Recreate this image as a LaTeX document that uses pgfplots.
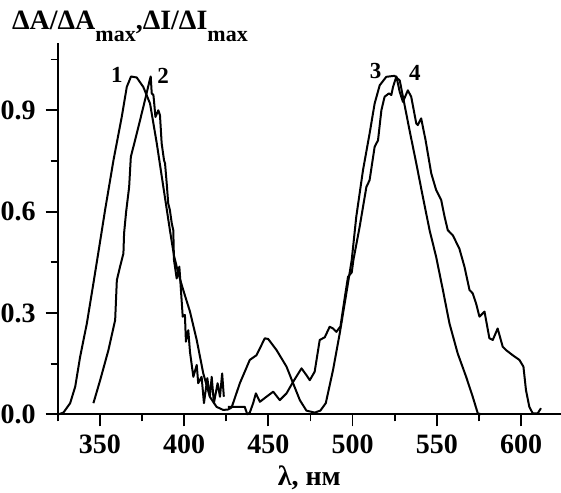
\documentclass[border=0pt]{standalone}
\usepackage{fontspec}
\setmainfont{Liberation Serif}
\usepackage{pgfplots}
\pgfplotsset{compat=1.18}
\begin{document}
\begin{tikzpicture}
\useasboundingbox (-28.85pt,-38.85pt) rectangle (251.65pt,207.15pt);
\begin{axis}[
  scale only axis, width=251.65pt, height=185.8pt,
  xmin=325, xmax=623.7, ymin=0, ymax=1.1,
  axis x line*=bottom, axis y line*=left,
  axis line style={-, line width=0.9pt},
  tick align=outside,
  major tick length=6pt, minor tick length=3.5pt,
  every tick/.append style={black, line width=0.9pt},
  xtick={350,400,...,600}, ytick={0,0.3,0.6,0.9},
  minor xtick={325,375,...,575}, minor ytick={0.15,0.45,0.75,1.05},
  /pgf/number format/assume math mode=true,
  yticklabel style={/pgf/number format/fixed, /pgf/number format/fixed zerofill,
    /pgf/number format/precision=1, xshift=-1.5pt},
  tick label style={font=\fontsize{14}{16}\selectfont\bfseries},
  xticklabel style={yshift=-1pt},
  xlabel={λ, нм},
  xlabel style={font=\fontsize{14}{16}\selectfont\bfseries,
    at={(rel axis cs:0.5,0)}, anchor=base, yshift=-35.35pt},
  clip=false,
]
% curves 1 and 3 (one smooth spectrum)
\addplot[black, line width=1pt, line join=round] coordinates {
(325.5,0) (328.4,0.005) (332.4,0.033) (335.4,0.082) (338.3,0.170) (342.3,0.269)
(346.2,0.388) (349.8,0.500) (353.1,0.604) (358.1,0.752) (363.0,0.880) (366.0,0.969)
(368.5,1.0) (371.9,0.997) (375.8,0.969) (379.8,0.920) (383.8,0.802) (387.7,0.673)
(391.6,0.545) (394.0,0.470) (396.6,0.417) (399.5,0.368) (403.5,0.304) (407.5,0.220)
(411.4,0.121) (415.3,0.052) (419.3,0.022) (423.2,0.013) (426.0,0.014) (428.2,0.020)
(433.1,0.092) (439.0,0.161) (443.0,0.175) (447.9,0.225) (449.9,0.223) (454.9,0.190)
(460.8,0.141) (464.7,0.092) (468.7,0.042) (472.6,0.011) (477.5,0.005) (480.9,0.011)
(484.1,0.033) (488.4,0.131) (492.4,0.240) (496.3,0.358) (499.5,0.457) (502.2,0.585)
(506.2,0.723) (510.1,0.831) (513.1,0.920) (516.1,0.974) (520.0,0.999) (524.9,1.002)
(528.0,0.988) (529.9,0.940) (533.8,0.841) (537.8,0.743) (541.7,0.644) (545.7,0.545)
(549.6,0.466) (553.6,0.368) (557.5,0.269) (562.4,0.180) (567.4,0.111) (571.3,0.052)
(574.3,0.003) (576.3,0)
};
% curve 2
\addplot[black, line width=1pt, line join=round] coordinates {
(346.2,0.033) (350.2,0.101) (355.1,0.190) (359.1,0.279) (360.1,0.397) (362.0,0.437)
(364.0,0.476) (364.4,0.536) (365.6,0.599) (367.4,0.673) (368.4,0.762) (370.9,0.811)
(373.9,0.871) (376.8,0.930) (379.4,0.985) (380.2,1.0) (380.8,0.950) (381.8,0.945)
(382.2,0.925) (383.0,0.880) (384.7,0.900) (385.7,0.885) (386.7,0.802) (388.1,0.752)
(388.7,0.743) (389.7,0.683) (390.6,0.624) (391.6,0.604) (392.7,0.565) (393.6,0.545)
(394.0,0.457) (394.6,0.437) (395.6,0.402) (397.2,0.437) (399.2,0.289) (400.5,0.294)
(401.1,0.215) (402.5,0.249) (403.5,0.185) (405.5,0.111) (407.5,0.146) (408.4,0.092)
(410.4,0.111) (411.8,0.033) (413.8,0.107) (415.3,0.052) (416.4,0.111) (417.7,0.033)
(419.9,0.092) (421.3,0.052) (422.6,0.121) (423.6,0.052)
};
% curve 4
\addplot[black, line width=1pt, line join=round] coordinates {
(426.0,0.022) (436.0,0.022) (437.5,0.0) (439.0,0.005) (441.0,0.033) (442.6,0.062)
(445.0,0.037) (448.9,0.052) (452.9,0.067) (456.8,0.042) (460.8,0.062) (464.7,0.096)
(469.7,0.136) (472.6,0.116) (474.6,0.101) (477.5,0.126) (480.5,0.220) (483.5,0.228)
(486.4,0.259) (488.4,0.254) (490.4,0.244) (492.8,0.260) (495.5,0.350) (497.3,0.407)
(499.5,0.420) (500.5,0.457) (504.2,0.555) (508.2,0.673) (510.1,0.693) (513.1,0.792)
(515.1,0.811) (517.1,0.900) (519.0,0.940) (521.6,0.950) (523.0,0.945) (524.0,0.969)
(526.0,1.0) (528.0,0.954) (529.9,0.925) (532.8,0.959) (534.8,0.940) (537.8,0.861)
(538.7,0.856) (540.7,0.876) (543.3,0.812) (546.7,0.713) (549.6,0.664) (552.6,0.634)
(554.6,0.585) (556.5,0.545) (559.5,0.530) (563.4,0.490) (566.4,0.437) (569.4,0.368)
(571.3,0.358) (573.3,0.328) (575.3,0.289) (578.3,0.304) (581.2,0.225) (583.2,0.220)
(586.1,0.254) (589.1,0.200) (591.1,0.190) (595.0,0.175) (599.0,0.161) (601.4,0.141)
(602.9,0.072) (604.9,0.022) (606.9,0.003) (609.9,0.003) (611.8,0.018)
};
\node[font=\fontsize{11.5}{13}\selectfont\bfseries] at (axis cs:360.1,1.005) {1};
\node[font=\fontsize{11.5}{13}\selectfont\bfseries] at (axis cs:387.5,1.002) {2};
\node[font=\fontsize{11.5}{13}\selectfont\bfseries] at (axis cs:513.7,1.016) {3};
\node[font=\fontsize{11.5}{13}\selectfont\bfseries] at (axis cs:537.0,1.011) {4};
\node[anchor=base west, inner sep=0pt, font=\fontsize{14}{16}\selectfont\bfseries]
  at (rel axis cs:0,1) [xshift=-23pt, yshift=6.35pt]
  {ΔA/ΔA\raisebox{-5.8pt}{\fontsize{11}{12}\selectfont max},ΔI/ΔI\raisebox{-5.8pt}{\fontsize{11}{12}\selectfont max}};
\end{axis}
\end{tikzpicture}
\end{document}
